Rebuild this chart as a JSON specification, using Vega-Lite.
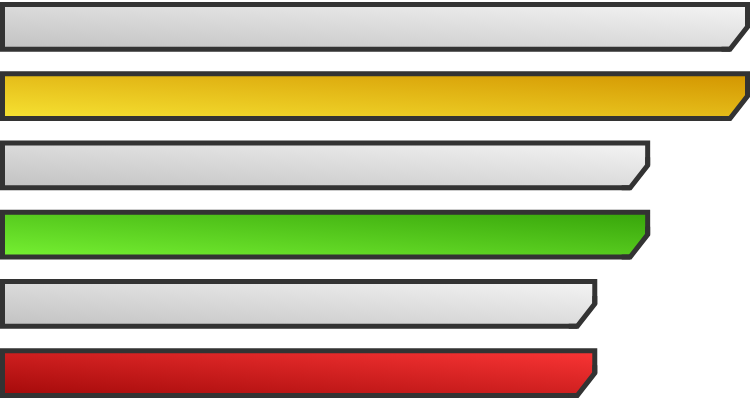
{
  "$schema": "https://vega.github.io/schema/vega-lite/v6.json",
  "width": 745,
  "height": 400,
  "autosize": "none",
  "padding": {"left": 2.5, "right": 2.5, "top": 0, "bottom": 0},
  "background": "#ffffff",
  "config": {"view": {"stroke": null}},
  "data": {
    "values": [
      {"row": "r1", "tier": "baseline", "value": 100},
      {"row": "r2", "tier": "gold", "value": 100},
      {"row": "r3", "tier": "baseline", "value": 86.6},
      {"row": "r4", "tier": "green", "value": 86.6},
      {"row": "r5", "tier": "baseline", "value": 79.5},
      {"row": "r6", "tier": "red", "value": 79.5}
    ]
  },
  "encoding": {
    "x": {"field": "value", "type": "quantitative", "axis": null, "scale": {"domain": [0, 100], "nice": false, "zero": true}},
    "y": {"field": "row", "type": "nominal", "axis": null, "sort": null, "scale": {"paddingInner": 0.356, "paddingOuter": 0.066}}
  },
  "layer": [
    {
      "mark": {"type": "bar", "stroke": "#333333", "strokeWidth": 5, "strokeJoin": "miter"},
      "encoding": {
        "fill": {
          "condition": [
            {"test": "datum.tier === 'gold'", "value": {"gradient": "linear", "x1": 0, "y1": 1, "x2": 1, "y2": 0, "stops": [{"offset": 0, "color": "#f6e232"}, {"offset": 1, "color": "#d39500"}]}},
            {"test": "datum.tier === 'green'", "value": {"gradient": "linear", "x1": 0, "y1": 1, "x2": 1, "y2": 0, "stops": [{"offset": 0, "color": "#76f032"}, {"offset": 1, "color": "#37a40a"}]}},
            {"test": "datum.tier === 'red'", "value": {"gradient": "linear", "x1": 0, "y1": 1, "x2": 1, "y2": 0, "stops": [{"offset": 0, "color": "#a40a0a"}, {"offset": 1, "color": "#fa3535"}]}}
          ],
          "value": {"gradient": "linear", "x1": 0, "y1": 1, "x2": 1, "y2": 0, "stops": [{"offset": 0, "color": "#c2c2c2"}, {"offset": 1, "color": "#f4f4f4"}]}
        }
      }
    },
    {
      "mark": {"type": "point", "shape": "M 0 0 L 5 0 L 5 27.5 L -17.5 27.5 L -17.5 22.3 Z", "size": 4, "filled": true, "color": "#ffffff", "opacity": 1, "strokeWidth": 0}
    },
    {
      "mark": {"type": "point", "shape": "M 0 -8 L 0 0 L -17.5 22.3 L -26 22.3", "size": 4, "filled": false, "color": "#333333", "opacity": 1, "strokeWidth": 5, "strokeJoin": "miter", "strokeCap": "butt"}
    }
  ]
}
